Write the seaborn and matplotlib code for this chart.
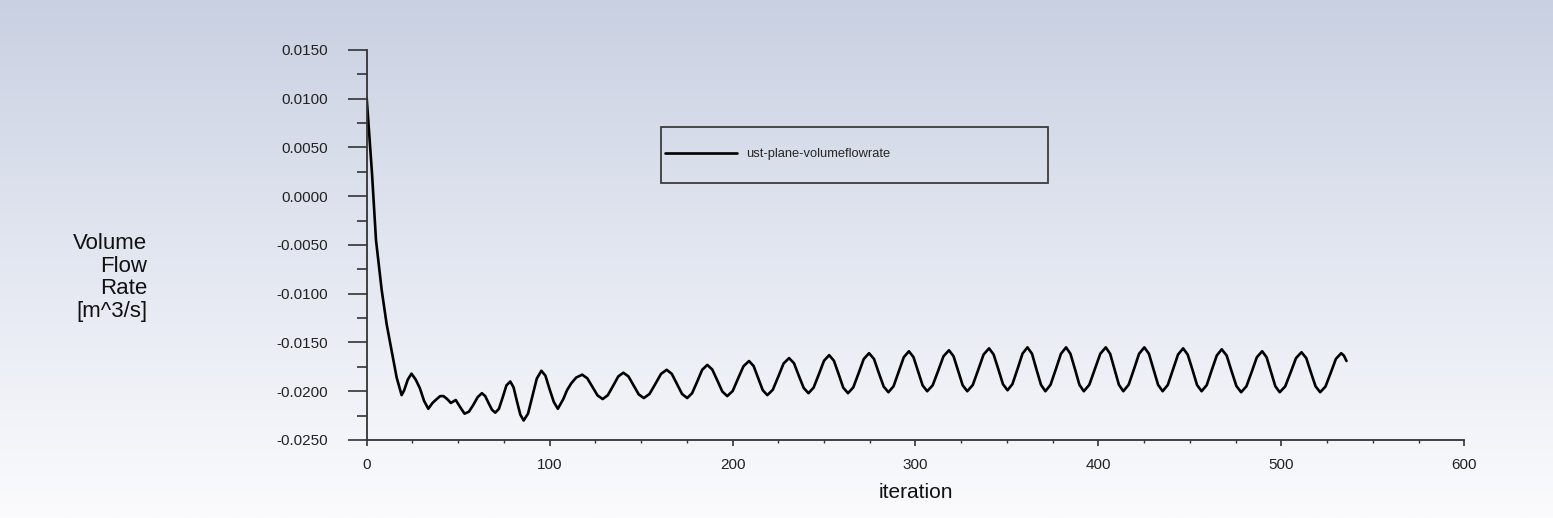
import matplotlib
matplotlib.use("Agg")
import matplotlib.pyplot as plt
import numpy as np
import pandas as pd
import seaborn as sns
from matplotlib.patches import Rectangle
from matplotlib.ticker import MultipleLocator, FuncFormatter

# curva: trecho inicial (transiente)
iter_start = [0, 2.9, 5.1, 8.2, 10.9, 13.6, 16.4, 19.1, 20.5, 22.5,
              24.5, 26.8, 29.1, 31.4, 33.7, 36.0, 38.3, 40.2, 42.0, 44.0,
              46.0, 48.7, 51.0, 53.5, 55.9, 58.3, 60.7, 63.0, 64.8, 66.6,
              68.5, 70.3, 72.3, 74.4, 76.4, 78.5, 80.3, 82.1, 84.0, 85.8,
              88.2, 90.6, 93.0, 95.5, 97.7, 100.0, 102.3, 104.5, 107.5, 109.5,
              111.8, 114.5, 117.8]
rate_start = [0.0101, 0.0024, -0.0045, -0.0096, -0.0131, -0.0158, -0.0186, -0.0204, -0.0199, -0.0188,
              -0.0182, -0.0188, -0.0197, -0.0210, -0.0218, -0.0212, -0.0208, -0.0205, -0.0205, -0.0208,
              -0.0212, -0.0209, -0.0216, -0.0223, -0.0221, -0.0214, -0.0206, -0.0202, -0.0205, -0.0212,
              -0.0219, -0.0222, -0.0218, -0.0206, -0.0194, -0.0190, -0.0196, -0.0210, -0.0224, -0.0230,
              -0.0223, -0.0205, -0.0187, -0.0179, -0.0184, -0.0198, -0.0211, -0.0218, -0.0208, -0.0199,
              -0.0192, -0.0186, -0.0183]

# trecho oscilatorio (4 pontos por meia onda)
iter_cycles = [120.6, 123.4, 126.2, 129.0,
               131.8, 134.7, 137.5, 140.3,
               143.1, 145.9, 148.7, 151.5,
               154.6, 157.8, 160.9, 164.0,
               166.8, 169.6, 172.4, 175.2,
               177.9, 180.7, 183.4, 186.2,
               188.9, 191.7, 194.4, 197.1,
               200.1, 203.0, 206.0, 209.0,
               211.5, 214.0, 216.5, 219.0,
               222.0, 225.0, 227.9, 230.9,
               233.6, 236.2, 238.9, 241.5,
               244.3, 247.2, 250.0, 252.8,
               255.4, 258.0, 260.5, 263.1,
               266.0, 268.9, 271.7, 274.6,
               277.3, 279.9, 282.6, 285.2,
               288.0, 290.8, 293.6, 296.4,
               298.9, 301.4, 303.9, 306.4,
               309.4, 312.4, 315.3, 318.3,
               320.8, 323.3, 325.8, 328.3,
               331.3, 334.3, 337.2, 340.2,
               342.7, 345.3, 347.8, 350.3,
               353.0, 355.8, 358.5, 361.2,
               363.7, 366.1, 368.6, 371.0,
               373.8, 376.7, 379.5, 382.3,
               384.7, 387.2, 389.6, 392.0,
               395.0, 398.0, 401.0, 404.0,
               406.4, 408.8, 411.2, 413.6,
               416.5, 419.4, 422.2, 425.1,
               427.6, 430.1, 432.6, 435.1,
               437.9, 440.7, 443.5, 446.3,
               448.8, 451.4, 453.9, 456.4,
               459.2, 461.9, 464.7, 467.4,
               470.1, 472.7, 475.4, 478.0,
               480.9, 483.8, 486.6, 489.5,
               491.9, 494.3, 496.7, 499.1,
               502.1, 505.1, 508.0, 511.0,
               513.6, 516.1, 518.7, 521.2,
               524.1, 527.0, 529.8, 532.7,
               534.2, 535.6]
rate_cycles = [-0.01867, -0.01955, -0.02043, -0.0208,
               -0.02041, -0.01945, -0.01849, -0.0181,
               -0.01848, -0.0194, -0.02032, -0.0207,
               -0.02028, -0.01925, -0.01822, -0.0178,
               -0.01822, -0.01925, -0.02028, -0.0207,
               -0.0202, -0.0190, -0.0178, -0.0173,
               -0.01777, -0.0189, -0.02003, -0.0205,
               -0.01997, -0.0187, -0.01743, -0.0169,
               -0.01741, -0.01865, -0.01989, -0.0204,
               -0.01985, -0.0185, -0.01715, -0.0166,
               -0.01713, -0.0184, -0.01967, -0.0202,
               -0.01963, -0.01825, -0.01687, -0.0163,
               -0.01687, -0.01825, -0.01963, -0.0202,
               -0.0196, -0.01815, -0.0167, -0.0161,
               -0.01668, -0.0181, -0.01952, -0.0201,
               -0.01949, -0.0180, -0.01651, -0.0159,
               -0.0165, -0.01795, -0.0194, -0.0200,
               -0.01939, -0.0179, -0.01641, -0.0158,
               -0.01641, -0.0179, -0.01939, -0.0200,
               -0.01936, -0.0178, -0.01624, -0.0156,
               -0.01623, -0.01775, -0.01927, -0.0199,
               -0.01926, -0.0177, -0.01614, -0.0155,
               -0.01616, -0.01775, -0.01934, -0.0200,
               -0.01934, -0.01775, -0.01616, -0.0155,
               -0.01616, -0.01775, -0.01934, -0.0200,
               -0.01934, -0.01775, -0.01616, -0.0155,
               -0.01616, -0.01775, -0.01934, -0.0200,
               -0.01934, -0.01775, -0.01616, -0.0155,
               -0.01616, -0.01775, -0.01934, -0.0200,
               -0.01936, -0.0178, -0.01624, -0.0156,
               -0.01624, -0.0178, -0.01936, -0.0200,
               -0.01937, -0.01785, -0.01633, -0.0157,
               -0.01634, -0.0179, -0.01946, -0.0201,
               -0.01949, -0.0180, -0.01651, -0.0159,
               -0.01651, -0.0180, -0.01949, -0.0201,
               -0.0195, -0.01805, -0.0166, -0.0160,
               -0.0166, -0.01805, -0.0195, -0.0201,
               -0.01952, -0.0181, -0.01668, -0.0161,
               -0.01635, -0.0169]

serie = 'ust-plane-volumeflowrate'

df = pd.DataFrame({'iteration': iter_start + iter_cycles,
                   'vazao': rate_start + rate_cycles})

sns.set_style('ticks')
plt.rcParams['font.family'] = ['Liberation Sans', 'DejaVu Sans']
plt.rcParams['axes.unicode_minus'] = False

fig = plt.figure(figsize=(15.53, 5.18), dpi=100)

# fundo em degrade (azul acinzentado -> branco)
bg = fig.add_axes([0, 0, 1, 1], zorder=-1)
t = np.linspace(0, 1, 256)[:, None]
topo = np.array([201, 208, 225]) / 255
meio = np.array([227, 231, 241]) / 255
base = np.array([251, 251, 253]) / 255
grad = np.where(t < 0.5, topo + (meio - topo) * (t / 0.5), meio + (base - meio) * ((t - 0.5) / 0.5))
bg.imshow(grad[:, None, :], aspect='auto', extent=[0, 1, 0, 1])
bg.axis('off')

ax = fig.add_axes([0.2361, 0.1506, 0.7068, 0.7529])
ax.patch.set_alpha(0)

sns.lineplot(data=df, x='iteration', y='vazao', ax=ax, color='black', lw=1.9,
             estimator=None, label=serie, solid_joinstyle='round', solid_capstyle='round')

ax.set_xlim(0, 600)
ax.set_ylim(-0.025, 0.015)
ax.xaxis.set_major_locator(MultipleLocator(100))
ax.xaxis.set_minor_locator(MultipleLocator(25))
ax.yaxis.set_major_locator(MultipleLocator(0.005))
ax.yaxis.set_minor_locator(MultipleLocator(0.0025))
ax.yaxis.set_major_formatter(FuncFormatter(lambda v, p: '%.4f' % (0.0 if abs(v) < 1e-9 else v)))

ax.tick_params(axis='y', which='major', length=13.5, width=1.2, pad=14.4, labelsize=11,
               color='#333333', labelcolor='#222222')
ax.tick_params(axis='y', which='minor', length=7.2, width=1.2, color='#333333')
ax.tick_params(axis='x', which='major', length=4.3, width=1.2, pad=8.6, labelsize=11,
               color='#333333', labelcolor='#222222')
ax.tick_params(axis='x', which='minor', length=2.2, width=1.0, color='#333333')

for s in ['top', 'right']:
    ax.spines[s].set_visible(False)
for s in ['left', 'bottom']:
    ax.spines[s].set_color('#333333')
    ax.spines[s].set_linewidth(1.3)

ax.set_xlabel('iteration', fontsize=15, labelpad=8, color='#111111')
ax.set_ylabel('')
fig.text(147 / 1553, 1 - 233 / 518, 'Volume\nFlow\nRate\n[m^3/s]', ha='right', va='top',
         multialignment='right', fontsize=16, linespacing=1.1, color='#111111')

# legenda com caixa
ax.add_patch(Rectangle((0.268, 0.659), 0.3526, 0.1436, transform=ax.transAxes,
                       fill=False, ec='#3c3c3c', lw=1.3, clip_on=False))
ax.legend(loc='center left', bbox_to_anchor=(0.268, 0.733), frameon=False, fontsize=9.3,
          handlelength=5.57, handletextpad=0.7, borderpad=0.35, borderaxespad=0)

fig.savefig('out.png', dpi=100)
